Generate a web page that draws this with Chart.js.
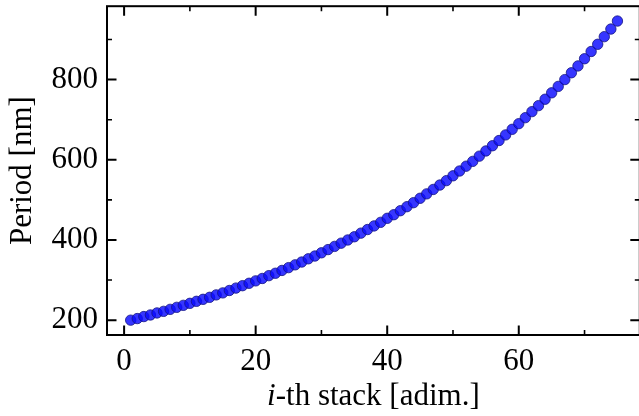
<!DOCTYPE html>
<html>
<head>
<meta charset="utf-8">
<script src="https://cdn.jsdelivr.net/npm/chart.js@4.4.1/dist/chart.umd.min.js"></script>
<style>
  html, body { margin: 0; padding: 0; background: #fff; overflow: hidden; }
  #wrap { width: 646px; height: 416px; }
</style>
</head>
<body>
<div id="wrap"><canvas id="chart" width="646" height="416"></canvas></div>
<script>
// i-th stack index
const stackIndex = [
  1, 2, 3, 4, 5, 6, 7, 8, 9, 10, 11, 12, 13, 14, 15, 16, 17, 18, 19, 20,
  21, 22, 23, 24, 25, 26, 27, 28, 29, 30, 31, 32, 33, 34, 35, 36, 37, 38, 39, 40,
  41, 42, 43, 44, 45, 46, 47, 48, 49, 50, 51, 52, 53, 54, 55, 56, 57, 58, 59, 60,
  61, 62, 63, 64, 65, 66, 67, 68, 69, 70, 71, 72, 73, 74, 75
];
// period [nm]
const periodNm = [
  200, 204, 209, 213, 218, 222, 227, 232, 237, 242, 247, 252, 257, 263, 268, 274, 280, 286, 292, 298,
  304, 311, 317, 324, 331, 338, 345, 353, 360, 368, 376, 384, 392, 400, 408, 417, 426, 435, 444, 454,
  463, 473, 483, 493, 504, 515, 526, 537, 548, 560, 572, 584, 596, 609, 622, 635, 648, 662, 676, 690,
  705, 720, 735, 751, 767, 783, 800, 817, 834, 852, 870, 888, 907, 926, 946
];

const xMajor = [0, 20, 40, 60];
const xMinor = [10, 30, 50, 70];
const yMajor = [200, 400, 600, 800];
const yMinor = [300, 500, 700, 900];

const FONT = "'Liberation Serif', 'Times New Roman', serif";
const FONT_SIZE = 31;

// spines + inward ticks on all four sides, matplotlib style
const frameTicks = {
  id: 'frameTicks',
  afterDraw(chart) {
    const { ctx, chartArea: a, scales: { x, y } } = chart;
    ctx.save();
    ctx.strokeStyle = '#000';
    ctx.lineCap = 'butt';
    const tickX = (vals, len, w) => {
      ctx.lineWidth = w;
      ctx.beginPath();
      vals.forEach(v => {
        const px = x.getPixelForValue(v);
        ctx.moveTo(px, a.bottom); ctx.lineTo(px, a.bottom - len);
        ctx.moveTo(px, a.top); ctx.lineTo(px, a.top + len);
      });
      ctx.stroke();
    };
    const tickY = (vals, len, w) => {
      ctx.lineWidth = w;
      ctx.beginPath();
      vals.forEach(v => {
        const py = y.getPixelForValue(v);
        ctx.moveTo(a.left, py); ctx.lineTo(a.left + len, py);
        ctx.moveTo(a.right, py); ctx.lineTo(a.right - len, py);
      });
      ctx.stroke();
    };
    tickX(xMajor, 9.5, 2);
    tickX(xMinor, 5, 1.6);
    tickY(yMajor, 9.5, 2);
    tickY(yMinor, 5, 1.6);
    ctx.lineWidth = 2;
    ctx.strokeRect(a.left, a.top, a.right - a.left, a.bottom - a.top);

    // x axis title with italic i
    const lead = 'i';
    const rest = '-th stack [adim.]';
    ctx.fillStyle = '#000';
    ctx.textBaseline = 'alphabetic';
    ctx.font = `italic ${FONT_SIZE}px ${FONT}`;
    const w1 = ctx.measureText(lead).width;
    ctx.font = `${FONT_SIZE}px ${FONT}`;
    const w2 = ctx.measureText(rest).width;
    const x0 = (a.left + a.right) / 2 - (w1 + w2) / 2;
    ctx.font = `italic ${FONT_SIZE}px ${FONT}`;
    ctx.fillText(lead, x0, 405);
    ctx.font = `${FONT_SIZE}px ${FONT}`;
    ctx.fillText(rest, x0 + w1, 405);
    ctx.restore();
  }
};

const noEdgePad = s => { s.paddingTop = 0; s.paddingBottom = 0; s.paddingLeft = 0; s.paddingRight = 0; };

new Chart(document.getElementById('chart'), {
  type: 'scatter',
  data: {
    datasets: [{
      data: stackIndex.map((v, i) => ({ x: v, y: periodNm[i] })),
      backgroundColor: 'rgba(10, 10, 255, 0.82)',
      borderColor: 'rgba(20, 20, 130, 0.8)',
      borderWidth: 1,
      pointRadius: 5.2,
      pointHoverRadius: 5.2
    }]
  },
  options: {
    responsive: false,
    animation: false,
    events: [],
    layout: { padding: { top: 5, right: 2, left: 0, bottom: 0 } },
    plugins: { legend: { display: false }, tooltip: { enabled: false } },
    scales: {
      x: {
        type: 'linear',
        min: -2.6,
        max: 78.4,
        afterBuildTicks: s => { s.ticks = xMajor.map(v => ({ value: v })); },
        afterFit: s => { s.height = 81; noEdgePad(s); },
        grid: { display: false, drawTicks: false },
        border: { display: false },
        ticks: { color: '#000', padding: 8, font: { family: FONT, size: FONT_SIZE } }
      },
      y: {
        type: 'linear',
        min: 163,
        max: 983,
        afterBuildTicks: s => { s.ticks = yMajor.map(v => ({ value: v })); },
        afterFit: s => { s.width = 107; noEdgePad(s); },
        grid: { display: false, drawTicks: false },
        border: { display: false },
        ticks: { color: '#000', padding: 9, font: { family: FONT, size: FONT_SIZE } },
        title: {
          display: true,
          text: 'Period [nm]',
          color: '#000',
          padding: { top: 4, bottom: 0 },
          font: { family: FONT, size: FONT_SIZE }
        }
      }
    }
  },
  plugins: [frameTicks]
});
</script>
</body>
</html>
